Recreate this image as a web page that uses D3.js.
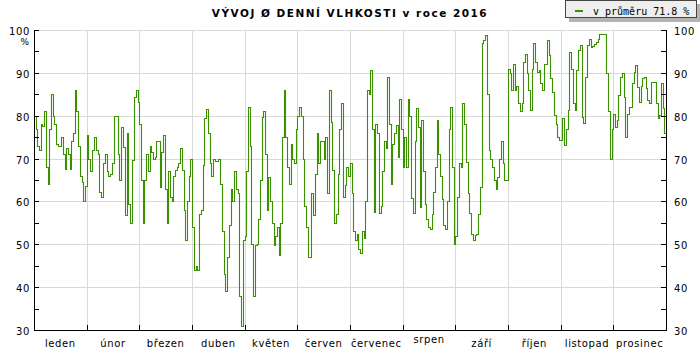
<!DOCTYPE html>
<html><head><meta charset="utf-8">
<script src="https://cdn.jsdelivr.net/npm/d3@7"></script>
<style>body{margin:0;background:#fff}svg{display:block}</style>
</head><body>
<script>
const months = ["leden","únor","březen","duben","květen","červen","červenec","srpen","září","říjen","listopad","prosinec"];
const jan = [80,77,73,72,78,77.5,81,68,64,77,85,80,78,73.5,73,73,75,71,67.5,72.5,71,67.5,74,76,86,81,73,66,64.5,60,63.5];
const feb = [75.5,70,67,72,75,72,71,62.3,61,69,71,67,66,66.5,69,80,80,71,65,77.4,72.8,56.8,76,59.5,55,69.7,84.4,86,83.3];
const mar = [78,65,55,65,71,67,73,71.5,70,70.4,74,74,63.4,71.6,75.5,63,55,67,61,60,66,67.3,68,69,72.4,67.3,58,51,60,66,70];
const apr = [54,44,45,44,57,58,68.5,79.4,81.5,76,69,66,70,69.5,69.5,70,64,53,43,39,47,54.5,63,60,67,63,62,38,31,51];
const may = [52,67,82,73,50,38,49.8,50,56,65,79.8,81,71,58,65.8,60,55,49.8,52,54,47.5,55,75,86,75,68,64,73.5,70,69,77];
const jun = [80,82,80,70,59,54,47,47,62,56.8,66.5,76,69,74,74,70,75,62,86,78.6,67.3,55,57,66.5,77,82.9,61,63.8,68,66];
const jul = [69,62,53,51,52.5,49,48,53,51.4,60,86,85,90.7,77,57.5,78,76,57.2,59,67,74,72.4,89,78,64,73.5,76,77.8,70.4,84,77];
const aug = [68,75,68,84,80,60.7,57.2,74,81.7,77.4,58.8,79,67,59.5,56,54,53.5,57,62.3,68,79,71,66,60.5,54.5,53.5,60,77,82,68,50];
const sep = [52,61,69,68,83,78,69.3,62,57.2,52.5,51,52.2,52.5,57,63.4,97,97.7,98.8,85,72,70,68,65,63,65.8,70,74,69,65,65];
const oct = [91,90,86,92,86,87,83,81,83,92.6,94.5,90,86,81.3,91,96.9,92.6,90.3,90.7,87.6,86,92,92,97.7,94.2,88.7,85.6,80.2,78,75.1,74.3];
const nov = [74.3,79.4,73.2,77,81.3,94.9,91,83,81.3,90.7,95.3,96.5,79.8,78.2,89.1,96.5,98,96.1,96.3,96.7,97.1,98,99,99,99,99,90,81,70,77];
const dec = [80.5,77.4,79,84.8,89.1,89.9,84.4,75.1,80.5,82.1,82,87.6,90.3,91.8,86.8,83.3,87,88.7,89.1,86.5,83.7,82.9,87.9,87.9,87.9,83,79.4,80.2,87.6,81.7,76];
const monthData = [jan,feb,mar,apr,may,jun,jul,aug,sep,oct,nov,dec];
const yTicks = [30,40,50,60,70,80,90,100];
const yMinor = [35,45,55,65,75,85,95];
const title = "VÝVOJ Ø DENNÍ VLHKOSTI v roce 2016";
const legendText = "v průměru 71.8 %";

const W = 700, H = 350;
const L = 34, R = 666, T = 30, B = 330;
const svg = d3.select("body").append("svg").attr("width", W).attr("height", H);
const x = d3.scaleLinear().domain([0, 12]).range([L, R]);
const y = d3.scaleLinear().domain([30, 100]).range([B, T]);
const lineColor = "#3a9000";
const font = "'DejaVu Sans', Verdana, sans-serif";

// grid
const grid = svg.append("g").attr("shape-rendering", "crispEdges");
grid.selectAll("line.h").data(yTicks.filter(v => v > 30)).join("line")
  .attr("x1", L).attr("x2", R).attr("y1", d => Math.round(y(d)) + 0.5).attr("y2", d => Math.round(y(d)) + 0.5)
  .attr("stroke", "#d9d9d9");
grid.selectAll("line.v").data(d3.range(1, 12)).join("line")
  .attr("y1", T).attr("y2", B).attr("x1", d => Math.round(x(d)) + 0.5).attr("x2", d => Math.round(x(d)) + 0.5)
  .attr("stroke", "#d9d9d9");

// data points
const pts = [];
monthData.forEach((arr, m) => arr.forEach((v, i) => pts.push([m + i / arr.length, v])));
pts.push([12, dec[dec.length - 1]]);
svg.append("path").datum(pts)
  .attr("d", d3.line().x(d => Math.round(x(d[0])) + 0.5).y(d => Math.round(y(d[1])) + 0.5).curve(d3.curveStepAfter))
  .attr("fill", "none").attr("stroke", lineColor).attr("stroke-width", 1.1);

// axes
const ax = svg.append("g").attr("shape-rendering", "crispEdges").attr("stroke", "#000");
ax.append("line").attr("x1", L + 0.5).attr("x2", L + 0.5).attr("y1", T).attr("y2", B + 1);
ax.append("line").attr("x1", R + 0.5).attr("x2", R + 0.5).attr("y1", T).attr("y2", B + 1);
ax.append("line").attr("x1", L).attr("x2", R + 1).attr("y1", B + 0.5).attr("y2", B + 0.5);
const allY = yTicks.concat(yMinor).filter(v => v > 30);
ax.selectAll("line.tl").data(allY).join("line")
  .attr("x1", L).attr("x2", L + 5).attr("y1", d => Math.round(y(d)) + 0.5).attr("y2", d => Math.round(y(d)) + 0.5);
ax.selectAll("line.tr").data(allY).join("line")
  .attr("x1", R - 5).attr("x2", R + 1).attr("y1", d => Math.round(y(d)) + 0.5).attr("y2", d => Math.round(y(d)) + 0.5);
ax.selectAll("line.tb").data(d3.range(1, 12)).join("line")
  .attr("y1", B - 5).attr("y2", B).attr("x1", d => Math.round(x(d)) + 0.5).attr("x2", d => Math.round(x(d)) + 0.5);

// y labels
const lab = svg.append("g").attr("font-family", font).attr("font-size", 10).attr("fill", "#000");
lab.selectAll("text.l").data(yTicks).join("text")
  .attr("x", 30).attr("y", d => y(d) + 5).attr("text-anchor", "end").attr("letter-spacing", 0.6).text(d => d);
lab.selectAll("text.r").data(yTicks).join("text")
  .attr("x", 674).attr("y", d => y(d) + 5).attr("text-anchor", "start").attr("letter-spacing", 0.6).text(d => d);
lab.append("text").attr("x", 29).attr("y", 45).attr("text-anchor", "end").attr("font-size", 9).text("%");

// month labels
lab.selectAll("text.m").data(months).join("text")
  .attr("x", (d, i) => x(i + 0.5)).attr("y", d => d === "srpen" ? 343 : 347)
  .attr("text-anchor", "middle").attr("letter-spacing", 0.6).text(d => d);

// title
svg.append("text").attr("x", 350).attr("y", 17).attr("text-anchor", "middle")
  .attr("font-family", font).attr("font-weight", "bold").attr("font-size", 10.5)
  .attr("letter-spacing", 1.5).text(title);

// legend
const lg = svg.append("g").attr("shape-rendering", "crispEdges");
lg.append("rect").attr("x", 569).attr("y", 4).attr("width", 131).attr("height", 18).attr("fill", "#b4b4b4");
lg.append("rect").attr("x", 565.5).attr("y", 0.5).attr("width", 131).attr("height", 17).attr("fill", "#eeeeee").attr("stroke", "#444");
lg.append("line").attr("x1", 575).attr("x2", 583).attr("y1", 11).attr("y2", 11).attr("stroke", lineColor).attr("stroke-width", 2);
svg.append("text").attr("x", 593).attr("y", 14.5).attr("font-family", "'DejaVu Sans Mono', monospace").attr("font-size", 10)
  .attr("fill", "#000").text(legendText);
</script>
</body></html>
